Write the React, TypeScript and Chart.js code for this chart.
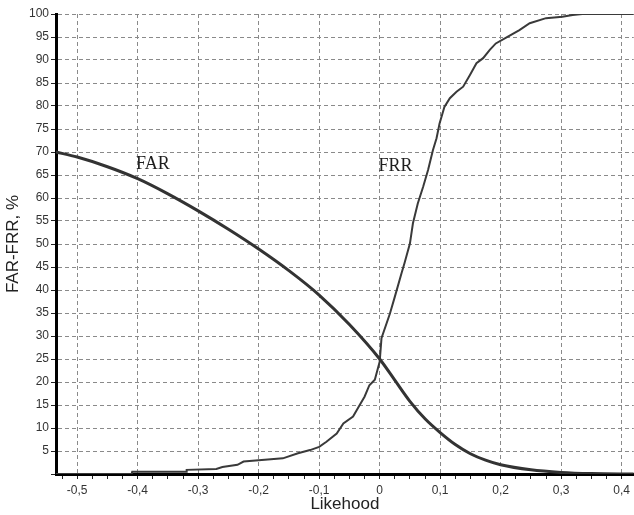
import React, { useEffect, useRef } from "react";
import { Chart, registerables } from "chart.js";

Chart.register(...registerables);

// FAR curve (x = likelihood, y = %)
const farX = [-0.535, -0.5, -0.45, -0.4, -0.35, -0.3, -0.25, -0.2, -0.15, -0.1, -0.05, 0, 0.025, 0.05, 0.075, 0.1, 0.125, 0.15, 0.175, 0.2, 0.25, 0.3, 0.35, 0.42];
const farY = [70, 68.9, 66.8, 64.2, 60.9, 57.2, 53.2, 48.9, 44.2, 38.9, 32.5, 25.0, 20.4, 15.8, 12.0, 9.0, 6.4, 4.4, 3.0, 2.0, 0.9, 0.35, 0.1, 0];

// FRR curve
const frrX = [-0.535, -0.41, -0.409, -0.32, -0.319, -0.27, -0.26, -0.235, -0.225, -0.2, -0.16, -0.135, -0.115, -0.1, -0.088, -0.071, -0.06, -0.044, -0.033, -0.025, -0.017, -0.008, 0, 0.003, 0.017, 0.025, 0.036, 0.041, 0.05, 0.055, 0.063, 0.072, 0.08, 0.088, 0.094, 0.099, 0.107, 0.116, 0.127, 0.138, 0.149, 0.16, 0.171, 0.182, 0.192, 0.212, 0.231, 0.248, 0.275, 0.302, 0.319, 0.335, 0.42];
const frrY = [0, 0, 0.5, 0.5, 0.9, 1.1, 1.5, 2.0, 2.7, 3.0, 3.4, 4.5, 5.2, 5.9, 7.0, 8.8, 11.0, 12.5, 15.0, 16.8, 19.3, 20.5, 24.4, 29.5, 34.9, 38.5, 43.6, 45.8, 50.1, 54.5, 58.8, 62.5, 66.1, 70.4, 73.0, 76.2, 79.8, 81.7, 83.1, 84.2, 86.7, 89.3, 90.4, 92.2, 93.6, 95.1, 96.5, 98.0, 99.1, 99.4, 99.8, 100, 100];

// Axis ticks
const xMajorTicks = [-0.5, -0.4, -0.3, -0.2, -0.1, 0, 0.1, 0.2, 0.3, 0.4];
const xTickLabels = ["-0,5", "-0,4", "-0,3", "-0,2", "-0,1", "0", "0,1", "0,2", "0,3", "0,4"];
const xMinorStep = 0.025;
const yTicks = [0, 5, 10, 15, 20, 25, 30, 35, 40, 45, 50, 55, 60, 65, 70, 75, 80, 85, 90, 95, 100];

// Curve labels
const curveLabels = ["FAR", "FRR"];
const curveLabelX = [-0.375, 0.026];
const curveLabelY = [67.3, 66.8];

const isMajor = (v: number) => xMajorTicks.some((m) => Math.abs(m - v) < 1e-6);

export default function App() {
  const ref = useRef<HTMLCanvasElement | null>(null);

  useEffect(() => {
    if (!ref.current) return;
    const labelPlugin = {
      id: "curveLabels",
      afterDatasetsDraw(chart: any) {
        const { ctx, scales } = chart;
        ctx.save();
        ctx.font = '18px "Liberation Serif"';
        ctx.fillStyle = "#1e1e1e";
        ctx.textAlign = "center";
        ctx.textBaseline = "middle";
        curveLabels.forEach((t, i) => {
          ctx.fillText(t, scales.x.getPixelForValue(curveLabelX[i]), scales.y.getPixelForValue(curveLabelY[i]));
        });
        ctx.restore();
      },
    };

    const chart = new Chart(ref.current, {
      type: "line",
      data: {
        datasets: [
          {
            label: "FAR",
            data: farX.map((x, i) => ({ x, y: farY[i] })),
            borderColor: "#333",
            borderWidth: 3,
            pointRadius: 0,
            cubicInterpolationMode: "monotone",
            fill: false,
          },
          {
            label: "FRR",
            data: frrX.map((x, i) => ({ x, y: frrY[i] })),
            borderColor: "#3a3a3a",
            borderWidth: 2,
            pointRadius: 0,
            tension: 0,
            fill: false,
          },
        ],
      },
      options: {
        animation: false,
        responsive: false,
        maintainAspectRatio: false,
        layout: { padding: { top: 14, right: 0, left: 0, bottom: 0 } },
        plugins: { legend: { display: false }, tooltip: { enabled: false } },
        scales: {
          x: {
            type: "linear",
            min: -0.535,
            max: 0.42,
            afterBuildTicks: (s: any) => {
              const ticks: any[] = [];
              const start = Math.ceil(s.min / xMinorStep - 1e-6);
              const end = Math.floor(s.max / xMinorStep + 1e-6);
              for (let i = start; i <= end; i++) ticks.push({ value: +(i * xMinorStep).toFixed(4) });
              s.ticks = ticks;
            },
            afterFit: (s: any) => {
              s.height = 41;
            },
            grid: {
              color: (c: any) => (c.tick && isMajor(c.tick.value) ? "#8a8a8a" : "rgba(0,0,0,0)"),
              tickColor: "#222",
              lineWidth: 1,
              tickLength: 5,
            },
            border: { display: true, color: "#000", width: 3, dash: [4, 3] },
            ticks: {
              autoSkip: false,
              maxRotation: 0,
              padding: 4,
              color: "#333",
              font: { family: '"Liberation Sans", Arial', size: 12 },
              callback: (v: any) => {
                const idx = xMajorTicks.findIndex((m) => Math.abs(m - v) < 1e-6);
                return idx >= 0 ? xTickLabels[idx] : "";
              },
            },
            title: {
              display: true,
              text: "Likehood",
              color: "#222",
              font: { family: '"Liberation Sans", Arial', size: 17 },
              padding: { top: 0, bottom: 0 },
            },
          },
          y: {
            type: "linear",
            min: 0,
            max: 100,
            afterBuildTicks: (s: any) => {
              s.ticks = yTicks.map((v) => ({ value: v }));
            },
            afterFit: (s: any) => {
              s.width = 56;
            },
            grid: {
              color: "#8a8a8a",
              tickColor: "#222",
              lineWidth: 1,
              tickLength: 5,
            },
            border: { display: true, color: "#000", width: 3, dash: [4, 3] },
            ticks: {
              autoSkip: false,
              padding: 2,
              color: "#333",
              font: { family: '"Liberation Sans", Arial', size: 12 },
              callback: (v: any) => (v === 0 ? "" : String(v)),
            },
            title: {
              display: true,
              text: "FAR-FRR, %",
              color: "#222",
              font: { family: '"Liberation Sans", Arial', size: 17 },
              padding: { top: 3, bottom: 0 },
            },
          },
        },
      },
      plugins: [labelPlugin],
    } as any);
    return () => chart.destroy();
  }, []);

  return (
    <div style={{ position: "absolute", left: 0, top: 0, width: 634, height: 515, background: "#fff" }}>
      <canvas ref={ref} width={634} height={515} style={{ display: "block", width: 634, height: 515 }} />
    </div>
  );
}
